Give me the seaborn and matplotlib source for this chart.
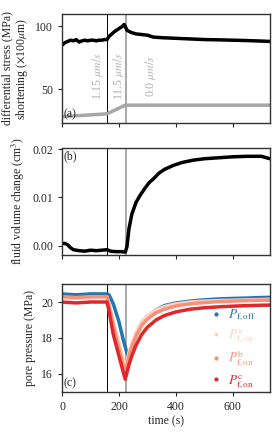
import matplotlib
matplotlib.use("Agg")
import matplotlib.pyplot as plt
from matplotlib.lines import Line2D
import seaborn as sns

# panel (a): differential stress and shortening
stress_t = [0, 5, 10, 20, 30, 40, 50, 60, 70, 80, 90, 100, 110, 120, 130, 140, 150, 158,
            165, 175, 185, 195, 205, 212, 218, 222, 228, 235, 245, 260, 280, 300, 320, 350,
            400, 450, 500, 550, 600, 650, 700, 730]
stress = [85, 86, 87, 88, 89, 88.5, 89.5, 87.5, 88.5, 89, 88.5, 89, 89, 88.5, 89, 89, 89.5, 89.5,
          92, 94, 96, 97.5, 99, 100, 101.5, 100, 97, 96, 95, 94, 93.5, 93, 91.5, 91,
          90.5, 90, 89.5, 89.3, 89, 88.7, 88.3, 88]
short_t = [0, 158, 222, 730]
short = [28, 30.3, 37.2, 37.2]

# panel (b): fluid volume change
vol_t = [0, 10, 20, 30, 40, 60, 80, 100, 120, 140, 158, 170, 190, 210, 222, 228, 235, 245,
         260, 275, 290, 305, 320, 340, 360, 390, 420, 460, 500, 550, 600, 650, 700, 730]
vol = [0.0005, 0.0005, 0.0002, -0.0004, -0.0008, -0.0010, -0.0011, -0.0009, -0.0010, -0.0009,
       -0.0008, -0.0011, -0.0012, -0.0012, -0.0013, -0.0002, 0.0035, 0.0065, 0.0090, 0.0105,
       0.0118, 0.0130, 0.0138, 0.0150, 0.0158, 0.0166, 0.0172, 0.0177, 0.0180, 0.0182,
       0.0184, 0.0185, 0.0185, 0.0180]

# panel (c): pore pressure
pf_t = [0, 50, 100, 158, 165, 180, 200, 215, 222, 230, 235, 245, 260, 280, 300, 330, 360,
        400, 450, 500, 550, 600, 650, 700, 730]
pf_off = [20.45, 20.4, 20.45, 20.45, 20.4, 19.9, 18.9, 17.9, 17.5, 17.05, 17.0, 17.5, 18.2,
          18.8, 19.2, 19.55, 19.8, 19.95, 20.05, 20.12, 20.17, 20.2, 20.22, 20.25, 20.26]
pf_a = [20.25, 20.2, 20.25, 20.25, 19.9, 18.9, 17.7, 16.8, 16.3, 16.8, 17.2, 17.7, 18.3,
        18.9, 19.25, 19.55, 19.75, 19.9, 20.0, 20.05, 20.08, 20.1, 20.12, 20.14, 20.15]
pf_b = [20.3, 20.25, 20.3, 20.3, 19.85, 18.7, 17.4, 16.45, 16.0, 16.6, 17.0, 17.5, 18.1,
        18.7, 19.05, 19.4, 19.6, 19.78, 19.9, 19.97, 20.02, 20.05, 20.08, 20.1, 20.1]
pf_c = [20.0, 19.95, 20.0, 20.0, 19.5, 18.2, 17.0, 16.1, 15.7, 16.2, 16.5, 17.0, 17.6,
        18.2, 18.6, 19.0, 19.25, 19.45, 19.6, 19.68, 19.73, 19.77, 19.8, 19.82, 19.83]
pf_labels = [r"$P_{\rm f,off}$", r"$P^{\rm a}_{\rm f,on}$", r"$P^{\rm b}_{\rm f,on}$", r"$P^{\rm c}_{\rm f,on}$"]
pf_colors = ["#1f77b4", "#fcd3c1", "#f8907a", "#e0282a"]

t_switch = [158, 223]
rate_labels = [r"1.15 $\mu m/s$", r"11.5 $\mu m/s$", r"0.0 $\mu m/s$"]
rate_x = [123, 197, 309]

sns.set_style("ticks")
plt.rcParams["font.family"] = ["Liberation Serif", "DejaVu Serif"]
plt.rcParams["mathtext.fontset"] = "stix"
plt.rcParams["font.size"] = 8.5
plt.rcParams["axes.edgecolor"] = "#333333"
plt.rcParams["axes.linewidth"] = 1.0

fig = plt.figure(figsize=(2.75, 4.33), dpi=100)
ax_a = fig.add_axes([0.2255, 0.716, 0.756, 0.252])
ax_b = fig.add_axes([0.2255, 0.411, 0.756, 0.247])
ax_c = fig.add_axes([0.2255, 0.095, 0.756, 0.249])

for ax in (ax_a, ax_b, ax_c):
    ax.axvline(t_switch[0], color="black", lw=0.7, zorder=1)
    ax.axvline(t_switch[1], color="#999999", lw=1.2, zorder=1)
    ax.set_xlim(0, 730)
    ax.set_xticks([0, 200, 400, 600])
    ax.tick_params(direction="out", length=3, width=0.8)

# (a)
sns.lineplot(x=stress_t, y=stress, ax=ax_a, color="black", lw=2.5)
sns.lineplot(x=short_t, y=short, ax=ax_a, color="#a6a6a6", lw=2.5)
for x, s in zip(rate_x, rate_labels):
    ax_a.text(x, 60, s, rotation=90, color="#b0b0b0", ha="center", va="center", fontsize=8.5)
ax_a.set_ylim(23, 110)
ax_a.set_yticks([50, 100])
ax_a.set_xticklabels([])
ax_a.set_ylabel("differential stress (MPa)\n" + r"shortening ($\times$100$\mu$m)", linespacing=1.0)
ax_a.text(0.005, 0.02, "(a)", transform=ax_a.transAxes, ha="left", va="bottom")

# (b)
sns.lineplot(x=vol_t, y=vol, ax=ax_b, color="black", lw=2.5)
ax_b.set_ylim(-0.0019, 0.0202)
ax_b.set_yticks([0.0, 0.01, 0.02])
ax_b.set_yticklabels(["0.00", "0.01", "0.02"])
ax_b.set_xticklabels([])
ax_b.set_ylabel(r"fluid volume change (cm$^3$)")
ax_b.text(0.005, 0.98, "(b)", transform=ax_b.transAxes, ha="left", va="top")

# (c)
for y, c in zip([pf_off, pf_a, pf_b, pf_c], pf_colors):
    sns.lineplot(x=pf_t, y=y, ax=ax_c, color=c, lw=2.5)
ax_c.set_ylim(15, 21)
ax_c.set_yticks([16, 18, 20])
ax_c.set_ylabel("pore pressure (MPa)")
ax_c.set_xlabel("time (s)", labelpad=2)
ax_c.text(0.005, 0.02, "(c)", transform=ax_c.transAxes, ha="left", va="bottom")
handles = [Line2D([], [], ls="", marker="o", ms=2, color=c) for c in pf_colors]
leg = ax_c.legend(handles, pf_labels, loc="lower right", frameon=False, handlelength=0.6,
                  handletextpad=0.6, labelspacing=0.3, borderaxespad=0.0, fontsize=9.5,
                  bbox_to_anchor=(0.96, -0.04))
for txt, c in zip(leg.get_texts(), pf_colors):
    txt.set_color(c)

fig.savefig("out.png", dpi=100)
